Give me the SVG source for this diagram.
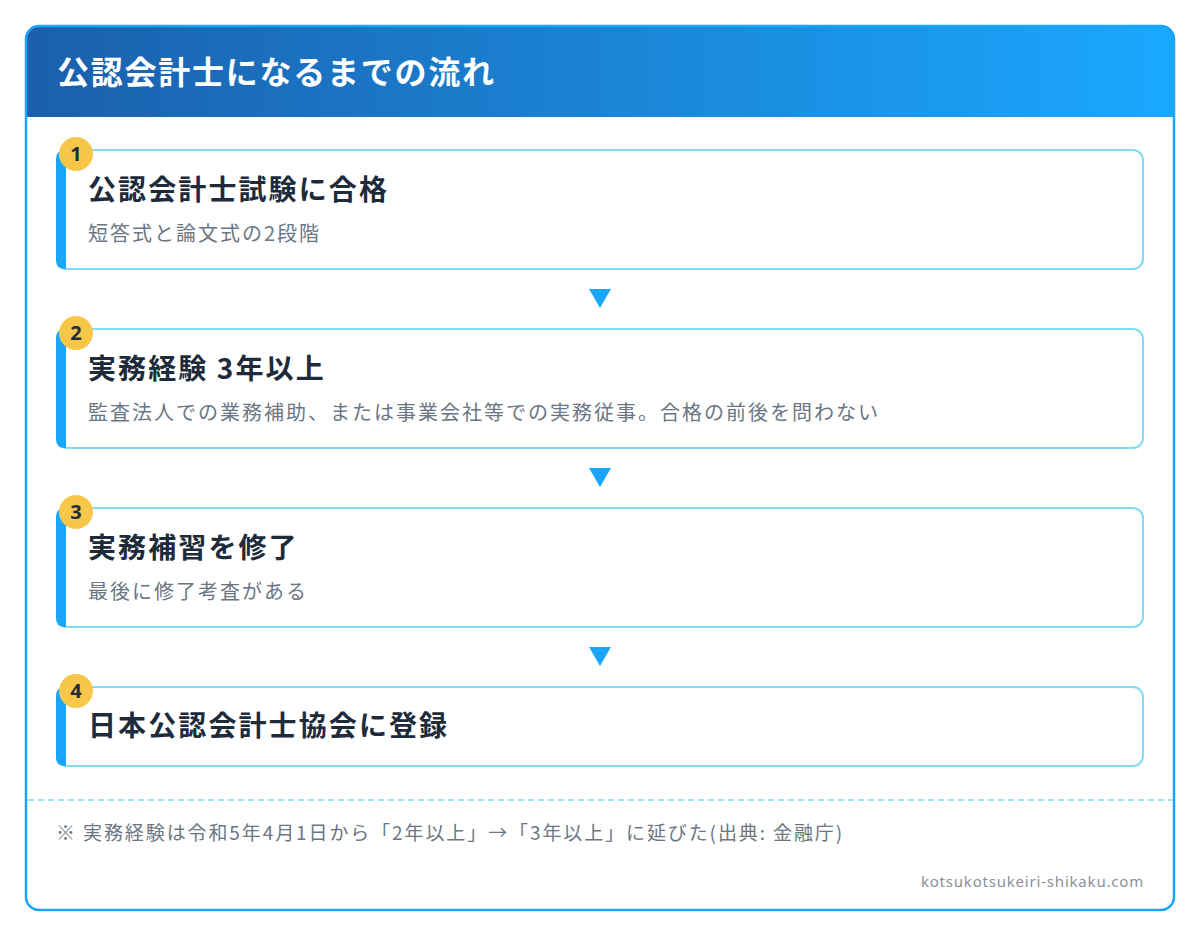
<svg xmlns="http://www.w3.org/2000/svg" width="1200" height="936" viewBox="0 0 1200 936">
<defs>
<linearGradient id="hdr" x1="0" y1="0" x2="1" y2="0">
<stop offset="0" stop-color="#1b5fab"/>
<stop offset="1" stop-color="#1aa8ff"/>
</linearGradient>
<clipPath id="cardclip"><rect x="26" y="26" width="1148" height="884" rx="13"/></clipPath>
</defs>
<style>
.card{fill:#ffffff;stroke:#80dcf2;stroke-width:2}
.bar{fill:#1aa6f8}
.badge{fill:#f8c74a}
.num{font-family:"Noto Sans","Noto Sans CJK JP",sans-serif;font-weight:700;font-size:20px;fill:#1f2d3d;text-anchor:middle}
.ttl{font-family:"Noto Sans CJK JP",sans-serif;font-weight:700;font-size:28px;letter-spacing:2.1px;fill:#1e2b3a}
.sub{font-family:"Noto Sans CJK JP",sans-serif;font-size:20px;letter-spacing:2px;fill:#6b7683}
.arrow{fill:#1aa6f8}
</style>
<rect x="0" y="0" width="1200" height="936" fill="#ffffff"/>
<g id="frame">
<g clip-path="url(#cardclip)">
<rect x="26" y="26" width="1148" height="91" fill="url(#hdr)"/>
</g>
<rect x="26" y="26" width="1148" height="884" rx="13" fill="none" stroke="#1aa6f8" stroke-width="2.5"/>
<text x="57" y="84" font-family="Noto Sans CJK JP,sans-serif" font-weight="700" font-size="32" letter-spacing="1.75" fill="#ffffff">公認会計士になるまでの流れ</text>
</g>
<g id="step1">
<rect class="card" x="57" y="150" width="1086" height="119" rx="10"/>
<path class="bar" d="M66,150 L66,269 L65,269 Q56,269 56,260 L56,159 Q56,150 65,150 Z"/>
<circle class="badge" cx="76" cy="154" r="17"/>
<text class="num" x="76" y="161">1</text>
<text class="ttl" x="88" y="200">公認会計士試験に合格</text>
<text class="sub" x="88" y="241">短答式と論文式の2段階</text>
</g>
<g id="step2">
<rect class="card" x="57" y="329" width="1086" height="119" rx="10"/>
<path class="bar" d="M66,329 L66,448 L65,448 Q56,448 56,439 L56,338 Q56,329 65,329 Z"/>
<circle class="badge" cx="76" cy="333" r="17"/>
<text class="num" x="76" y="340">2</text>
<text class="ttl" x="88" y="379">実務経験 3年以上</text>
<text class="sub" x="88" y="420">監査法人での業務補助、または事業会社等での実務従事。合格の前後を問わない</text>
</g>
<g id="step3">
<rect class="card" x="57" y="508" width="1086" height="119" rx="10"/>
<path class="bar" d="M66,508 L66,627 L65,627 Q56,627 56,618 L56,517 Q56,508 65,508 Z"/>
<circle class="badge" cx="76" cy="512" r="17"/>
<text class="num" x="76" y="519">3</text>
<text class="ttl" x="88" y="558">実務補習を修了</text>
<text class="sub" x="88" y="599">最後に修了考査がある</text>
</g>
<g id="step4">
<rect class="card" x="57" y="687" width="1086" height="79" rx="10"/>
<path class="bar" d="M66,687 L66,766 L65,766 Q56,766 56,757 L56,696 Q56,687 65,687 Z"/>
<circle class="badge" cx="76" cy="691" r="17"/>
<text class="num" x="76" y="698">4</text>
<text class="ttl" x="88" y="736">日本公認会計士協会に登録</text>
</g>
<g id="connectors">
<polygon class="arrow" points="589,289 611,289 600,308"/>
<polygon class="arrow" points="589,468 611,468 600,487"/>
<polygon class="arrow" points="589,647 611,647 600,666"/>
</g>
<g id="footer">
<line x1="28" y1="800" x2="1172" y2="800" stroke="#80dcf2" stroke-width="1.5" stroke-dasharray="6,4"/>
<text x="56" y="840" font-family="Noto Sans CJK JP,sans-serif" font-size="19" letter-spacing="1.9" fill="#6b7683">※ 実務経験は令和5年4月1日から「2年以上」→「3年以上」に延びた(出典: 金融庁)</text>
<text x="1144" y="887" font-family="Noto Sans,Noto Sans CJK JP,sans-serif" font-size="15" letter-spacing="0.8" fill="#8a8f96" text-anchor="end">kotsukotsukeiri-shikaku.com</text>
</g>
</svg>
